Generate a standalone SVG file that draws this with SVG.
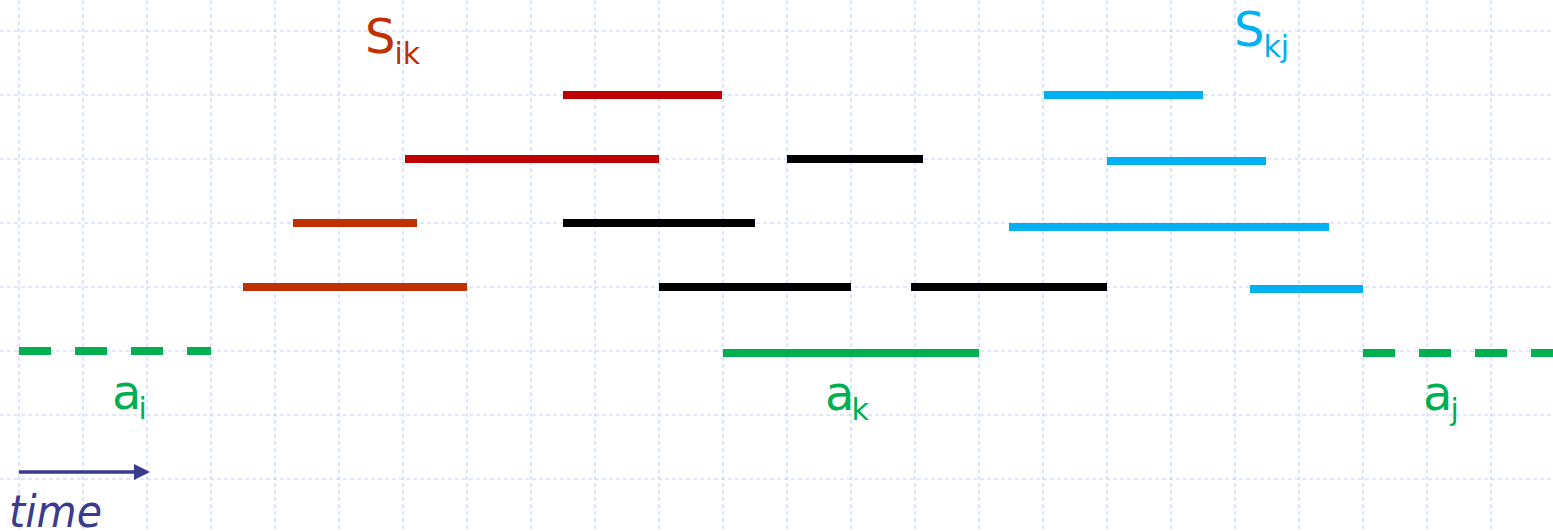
<svg xmlns="http://www.w3.org/2000/svg" width="1553" height="531" viewBox="0 0 1553 531">
  <style>
    .grid line { stroke: #c6d1fa; stroke-width: 1.2; stroke-dasharray: 4 3; }
    .bar { stroke-width: 8; fill: none; }
    .red { stroke: #c00000; }
    .rust { stroke: #c03000; }
    .black { stroke: #000000; }
    .blue { stroke: #00b0f0; }
    .green { stroke: #00b050; }
    .dashed { stroke-dasharray: 32 24; }
    .lbl { font-family: "DejaVu Sans", Verdana, sans-serif; font-size: 48px; }
    .sub { font-size: 30px; }
  </style>
  <defs>
    <marker id="arrowhead" markerWidth="16" markerHeight="16" refX="1" refY="8" orient="auto" markerUnits="userSpaceOnUse">
      <path d="M0,0 L16,8 L0,16 Z" fill="#3b3b8e"/>
    </marker>
  </defs>
  <rect width="1553" height="531" fill="#ffffff"/>

  <!-- background grid -->
  <g id="grid" class="grid">
    <line x1="19" y1="0" x2="19" y2="531"/>
    <line x1="83" y1="0" x2="83" y2="531"/>
    <line x1="147" y1="0" x2="147" y2="531"/>
    <line x1="211" y1="0" x2="211" y2="531"/>
    <line x1="275" y1="0" x2="275" y2="531"/>
    <line x1="339" y1="0" x2="339" y2="531"/>
    <line x1="403" y1="0" x2="403" y2="531"/>
    <line x1="467" y1="0" x2="467" y2="531"/>
    <line x1="531" y1="0" x2="531" y2="531"/>
    <line x1="595" y1="0" x2="595" y2="531"/>
    <line x1="659" y1="0" x2="659" y2="531"/>
    <line x1="723" y1="0" x2="723" y2="531"/>
    <line x1="787" y1="0" x2="787" y2="531"/>
    <line x1="851" y1="0" x2="851" y2="531"/>
    <line x1="915" y1="0" x2="915" y2="531"/>
    <line x1="979" y1="0" x2="979" y2="531"/>
    <line x1="1043" y1="0" x2="1043" y2="531"/>
    <line x1="1107" y1="0" x2="1107" y2="531"/>
    <line x1="1171" y1="0" x2="1171" y2="531"/>
    <line x1="1235" y1="0" x2="1235" y2="531"/>
    <line x1="1299" y1="0" x2="1299" y2="531"/>
    <line x1="1363" y1="0" x2="1363" y2="531"/>
    <line x1="1427" y1="0" x2="1427" y2="531"/>
    <line x1="1491" y1="0" x2="1491" y2="531"/>
    <line x1="0" y1="31" x2="1553" y2="31"/>
    <line x1="0" y1="95" x2="1553" y2="95"/>
    <line x1="0" y1="159" x2="1553" y2="159"/>
    <line x1="0" y1="223" x2="1553" y2="223"/>
    <line x1="0" y1="287" x2="1553" y2="287"/>
    <line x1="0" y1="351" x2="1553" y2="351"/>
    <line x1="0" y1="415" x2="1553" y2="415"/>
    <line x1="0" y1="479" x2="1553" y2="479"/>
  </g>

  <!-- activity intervals -->
  <g id="connectors">
    <!-- S_ik activities -->
    <line class="bar red" x1="563" y1="95" x2="722" y2="95"/>
    <line class="bar red" x1="405" y1="159" x2="659" y2="159"/>
    <line class="bar rust" x1="293" y1="223" x2="417" y2="223"/>
    <line class="bar rust" x1="243" y1="287" x2="467" y2="287"/>
    <!-- overlapping activities -->
    <line class="bar black" x1="787" y1="159" x2="923" y2="159"/>
    <line class="bar black" x1="563" y1="223" x2="755" y2="223"/>
    <line class="bar black" x1="659" y1="287" x2="851" y2="287"/>
    <line class="bar black" x1="911" y1="287" x2="1107" y2="287"/>
    <!-- S_kj activities -->
    <line class="bar blue" x1="1044" y1="95" x2="1203" y2="95"/>
    <line class="bar blue" x1="1107" y1="161" x2="1266" y2="161"/>
    <line class="bar blue" x1="1009" y1="227" x2="1329" y2="227"/>
    <line class="bar blue" x1="1250" y1="289" x2="1363" y2="289"/>
    <!-- a_i, a_k, a_j -->
    <line class="bar green dashed" x1="19" y1="351" x2="211" y2="351"/>
    <line class="bar green" x1="723" y1="353" x2="979" y2="353"/>
    <line class="bar green dashed" x1="1363" y1="353" x2="1553" y2="353"/>
    <!-- time axis -->
    <line x1="19" y1="472" x2="135" y2="472" stroke="#3b3b8e" stroke-width="3.3" marker-end="url(#arrowhead)"/>
  </g>

  <g id="label-sik">
    <text class="lbl" x="365" y="53" fill="#c03000">S<tspan class="sub" dx="-1" dy="11">ik</tspan></text>
  </g>
  <g id="label-skj">
    <text class="lbl" x="1234" y="46" fill="#00b0f0">S<tspan class="sub" dx="-1" dy="11">kj</tspan></text>
  </g>
  <g id="label-ai">
    <text class="lbl" x="112" y="409" fill="#00b050">a<tspan class="sub" dx="-3" dy="10">i</tspan></text>
  </g>
  <g id="label-ak">
    <text class="lbl" x="825" y="410" fill="#00b050">a<tspan class="sub" dx="-3" dy="10">k</tspan></text>
  </g>
  <g id="label-aj">
    <text class="lbl" x="1423" y="410" fill="#00b050">a<tspan class="sub" dx="-2" dy="10">j</tspan></text>
  </g>
  <g id="label-time">
    <text x="9" y="527" font-family="DejaVu Sans, Verdana, sans-serif" font-size="45" font-style="italic" fill="#3b3b8e" textLength="93" lengthAdjust="spacingAndGlyphs">time</text>
  </g>
</svg>
